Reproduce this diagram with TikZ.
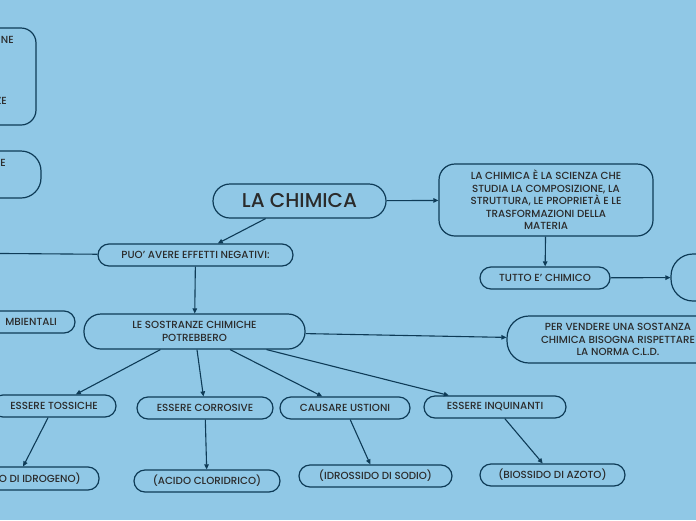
\documentclass[tikz,border=0pt]{standalone}
\usepackage{fontspec}
\setmainfont{Poppins}[UprightFont=* Medium]
\usetikzlibrary{arrows.meta,positioning,shapes}
\definecolor{sfondo}{HTML}{90C8E6}
\definecolor{bordo}{HTML}{0E3B57}
\definecolor{testo}{HTML}{2B2B2B}
\begin{document}
\begin{tikzpicture}[x=1pt,y=-1pt,
    box/.style={draw=bordo, line width=1.2pt, rounded corners=11pt, inner sep=0pt,
        text=testo, font=\fontsize{10.3}{12.5}\selectfont, align=center, minimum height=22pt},
    txt/.style={text=testo, font=\fontsize{10.3}{12.5}\selectfont, inner sep=0pt},
    freccia/.style={draw=bordo, line width=1.1pt, -{Triangle[length=5pt,width=4.5pt]}}]
                \fill[sfondo] (0,0) rectangle (696,520);
                \useasboundingbox (0,0) rectangle (696,520);
                \clip (0,0) rectangle (696,520);
                % nodi tagliati dal bordo
                \node[box, minimum width=76pt, minimum height=97pt, rounded corners=15pt] (alto) at (-2,76.5) {};
                \node[txt, anchor=east] (altoa) at (14,40) {NE};
                \node[txt, anchor=east] (altob) at (7,101) {ZE};
                \node[box, minimum width=81pt, minimum height=47pt, rounded corners=20pt] (medio) at (0.5,174.5) {};
                \node[txt, anchor=east] (medioa) at (6,163) {E};
                \node[box, minimum width=115pt] (ambient) at (17.5,322) {};
                \node[txt, anchor=east] (ambienta) at (57,322) {MBIENTALI};
                \node[box, minimum width=68pt, minimum height=47pt, rounded corners=22pt] (destra) at (705,277.5) {};
                % nodi principali
                \node[box, minimum width=173pt, minimum height=34pt, rounded corners=17pt,
                    font=\fontsize{20}{24}\selectfont] (chimica) at (299.5,201) {LA CHIMICA};
                \node[box, minimum width=214pt, minimum height=72pt, rounded corners=16pt] (def) at (546,200)
                    {LA CHIMICA È LA SCIENZA CHE\\STUDIA LA COMPOSIZIONE, LA\\STRUTTURA, LE PROPRIETÀ E LE\\TRASFORMAZIONI DELLA\\MATERIA};
                \node[box, minimum width=130pt] (tutto) at (545,278) {TUTTO E' CHIMICO};
                \node[box, minimum width=195pt] (effetti) at (195.5,255) {PUO' AVERE EFFETTI NEGATIVI:};
                \node[box, minimum width=221pt, minimum height=35pt, rounded corners=17pt] (sostanze) at (194.5,331.5)
                    {LE SOSTRANZE CHIMICHE\\POTREBBERO};
                \node[box, minimum width=222pt, minimum height=47pt, rounded corners=22pt] (norma) at (618,339.5)
                    {PER VENDERE UNA SOSTANZA\\CHIMICA BISOGNA RISPETTARE\\LA NORMA C.L.D.};
                \node[box, minimum width=124pt] (tossiche) at (54,406) {ESSERE TOSSICHE};
                \node[box, minimum width=136pt] (corrosive) at (205,408) {ESSERE CORROSIVE};
                \node[box, minimum width=130pt] (ustioni) at (345,408) {CAUSARE USTIONI};
                \node[box, minimum width=142pt] (inquinanti) at (495,407) {ESSERE INQUINANTI};
                \node[box, minimum width=164pt, minimum height=23pt] (idrogeno) at (17,478.5) {};
                \node[txt, anchor=east] (idrogenoa) at (81,479) {O DI IDROGENO)};
                \node[box, minimum width=146pt] (acido) at (207,481) {(ACIDO CLORIDRICO)};
                \node[box, minimum width=153pt] (idrossido) at (375.5,476) {(IDROSSIDO DI SODIO)};
                \node[box, minimum width=145pt] (biossido) at (552.5,475) {(BIOSSIDO DI AZOTO)};
                \coordinate (fuori) at (-60,253);
                % collegamenti
                \draw[freccia] (chimica) -- (def);
                \draw[freccia] (chimica) -- (effetti);
                \draw[freccia] (def) -- (tutto);
                \draw[freccia] (tutto) -- (destra);
                \draw[freccia] (effetti) -- (fuori);
                \draw[freccia] (effetti) -- (sostanze);
                \draw[freccia] (sostanze) -- (norma);
                \draw[freccia] (sostanze) -- (tossiche);
                \draw[freccia] (sostanze) -- (corrosive);
                \draw[freccia] (sostanze) -- (ustioni);
                \draw[freccia] (sostanze) -- (inquinanti);
                \draw[freccia] (tossiche) -- (idrogeno);
                \draw[freccia] (corrosive) -- (acido);
                \draw[freccia] (ustioni) -- (idrossido);
                \draw[freccia] (inquinanti) -- (biossido);
\end{tikzpicture}
\end{document}
